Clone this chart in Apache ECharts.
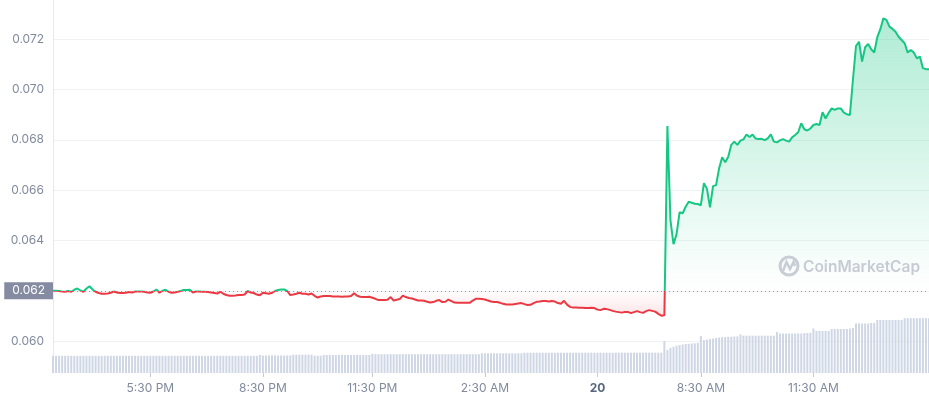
<!DOCTYPE html>
<html><head><meta charset="utf-8">
<script src="https://cdn.jsdelivr.net/npm/echarts@6/dist/echarts.min.js"></script>
<style>html,body{margin:0;padding:0;background:#fff}#c{width:929px;height:400px}</style>
</head><body><div id="c"></div>
<script>
const baseline = 0.062;

const priceA = [
0.06200,0.06200,0.06199,0.06197,0.06196,0.06199,0.06196,0.06204,0.06209,0.06201,
0.06196,0.06209,0.06218,0.06205,0.06196,0.06191,0.06188,0.06188,0.06189,0.06192,
0.06197,0.06193,0.06191,0.06191,0.06192,0.06195,0.06193,0.06197,0.06197,0.06197,
0.06196,0.06193,0.06192,0.06197,0.06205,0.06192,0.06200,0.06204,0.06196,0.06192,
0.06193,0.06196,0.06199,0.06203,0.06203,0.06204,0.06193,0.06197,0.06197,0.06196,
0.06196,0.06195,0.06193,0.06191,0.06189,0.06196,0.06188,0.06183,0.06180,0.06180,
0.06181,0.06183,0.06183,0.06185,0.06199,0.06193,0.06191,0.06185,0.06182
];
const priceB = [
0.06192,0.06190,0.06188,0.06192,0.06199,0.06203,0.06205,0.06205,0.06199,0.06183,
0.06185,0.06188,0.06192,0.06188,0.06188,0.06185,0.06189,0.06180,0.06173,0.06177,
0.06179,0.06179,0.06179,0.06177,0.06177,0.06177,0.06176,0.06177,0.06177,0.06179,
0.06190,0.06180,0.06176,0.06175,0.06175,0.06176,0.06172,0.06168,0.06163,0.06163,
0.06163,0.06164,0.06175,0.06161,0.06164,0.06167,0.06181,0.06175,0.06171,0.06169,
0.06165,0.06161,0.06161,0.06160,0.06156,0.06153,0.06155,0.06160,0.06163,0.06155,
0.06156,0.06165,0.06159,0.06153,0.06152,0.06152,0.06152
];
const priceC = [
0.06152,0.06152,0.06161,0.06168,0.06168,0.06167,0.06165,0.06161,0.06157,0.06155,
0.06155,0.06152,0.06148,0.06145,0.06145,0.06145,0.06147,0.06149,0.06151,0.06147,
0.06143,0.06144,0.06151,0.06156,0.06157,0.06159,0.06159,0.06157,0.06159,0.06157,
0.06151,0.06148,0.06160,0.06145,0.06136,0.06133,0.06133,0.06132,0.06132,0.06131,
0.06131,0.06132,0.06131,0.06125,0.06123,0.06128,0.06127,0.06124,0.06120,0.06117,
0.06115,0.06113,0.06116,0.06116,0.06111,0.06115,0.06119,0.06115,0.06112,0.06119,
0.06123,0.06120,0.06117,0.06108,0.06101,0.06103
];
const priceD = [
0.06855,0.06480,0.06385,0.06425,0.06512,0.06508,0.06534,0.06554,0.06550,0.06546,
0.06545,0.06540,0.06628,0.06605,0.06532,0.06616,0.06620,0.06687,0.06731,0.06711,
0.06733,0.06780,0.06793,0.06780,0.06797,0.06802,0.06821,0.06811,0.06821,0.06805,
0.06803,0.06804,0.06799,0.06806,0.06822,0.06793,0.06790,0.06798,0.06803,0.06797,
0.06793,0.06810,0.06819,0.06830,0.06866,0.06842,0.06837,0.06845,0.06859,0.06863,
0.06859,0.06910,0.06885,0.06907,0.06925,0.06919,0.06925,0.06925,0.06908,0.06902,
0.06899,0.07040,0.07173,0.07190,0.07111,0.07168,0.07181,0.07160,0.07147,0.07208,
0.07240,0.07283,0.07277,0.07250,0.07241,0.07230,0.07210,0.07197,0.07184,0.07147,
0.07157,0.07147,0.07124,0.07131,0.07085,0.07081,0.07081
];

const volA = [
1.72,1.72,1.72,1.72,1.72,1.72,1.72,1.72,1.72,1.72,
1.72,1.72,1.72,1.72,1.72,1.72,1.72,1.72,1.72,1.72,
1.72,1.72,1.72,1.72,1.72,1.72,1.72,1.72,1.72,1.72,
1.72,1.72,1.72,1.72,1.72,1.72,1.72,1.72,1.72,1.72,
1.72,1.72,1.72,1.72,1.72,1.72,1.72,1.72,1.72,1.72,
1.72,1.72,1.72,1.72,1.72,1.72,1.72,1.72,1.72,1.72,
1.72,1.72,1.72,1.72,1.72,1.72,1.72,1.72,1.80
];
const volB = [
1.75,1.75,1.75,1.75,1.75,1.75,1.75,1.75,1.75,1.75,
1.83,1.83,1.83,1.83,1.83,1.83,1.83,1.73,1.73,1.73,
1.80,1.80,1.80,1.80,1.80,1.80,1.80,1.80,1.80,1.80,
1.80,1.80,1.80,1.80,1.80,1.80,1.92,1.88,1.88,1.88,
1.88,1.88,1.88,1.88,1.88,1.88,1.88,1.88,1.88,1.88,
1.88,1.88,1.88,1.88,1.88,1.88,1.88,1.88,1.88,1.88,
1.88,1.88,1.88,1.88,1.88,1.88,1.88
];
const volC = [
1.88,1.88,1.88,1.88,1.88,1.97,1.97,1.97,1.97,1.97,
1.97,1.97,1.97,1.97,1.97,1.97,1.97,1.97,1.97,2.03,
2.03,2.03,2.03,2.03,2.03,2.03,2.03,2.03,2.03,2.03,
2.03,2.03,2.03,2.03,2.03,2.03,2.03,2.03,2.03,2.03,
2.03,2.03,2.03,2.03,2.03,2.03,2.03,2.03,2.03,2.03,
2.03,2.03,2.03,2.03,2.03,2.03,2.03,2.03,2.03,2.03,
2.03,2.03,2.03,2.03,2.03,3.20
];
const volD = [
2.30,2.50,2.62,2.72,2.80,2.85,2.90,2.92,2.95,2.97,
3.00,3.70,3.30,3.35,3.40,3.43,3.50,3.55,3.58,3.60,
3.62,3.63,3.65,3.66,3.85,3.73,3.73,3.73,3.73,3.73,
3.73,3.73,3.73,3.73,3.73,3.73,4.10,3.95,3.95,3.95,
3.95,3.95,3.95,3.95,3.95,4.00,4.00,4.00,4.45,4.20,
4.20,4.20,4.20,4.20,4.40,4.40,4.40,4.40,4.40,4.40,
4.45,4.50,4.95,4.95,4.95,4.95,4.95,5.00,5.00,5.30,
5.30,5.30,5.30,5.30,5.30,5.30,5.30,5.30,5.48,5.48,
5.48,5.48,5.48,5.48,5.48,5.48,5.48
];

const tickIndex = [32, 69, 105, 142, 179, 213, 250];
const tickLabels = ['5:30 PM', '8:30 PM', '11:30 PM', '2:30 AM', '20', '8:30 AM', '11:30 AM'];

const price = priceA.concat(priceB, priceC, priceD);
const volume = volA.concat(volB, volC, volD);
const categories = price.map((_, i) => String(i));

const green = '#16c784', red = '#ea3943';
const showTick = (idx) => tickIndex.indexOf(idx) >= 0;

function buildOption(origin) {
  return {
    animation: false,
    textStyle: {fontFamily: 'Inter'},
    grid: {left: 53, right: 0, top: 0, bottom: 27},
    xAxis: {
      type: 'category', data: categories, boundaryGap: false,
      axisLine: {show: false},
      axisTick: {show: true, interval: showTick, length: 4, lineStyle: {color: '#c4cad6'}},
      axisLabel: {
        interval: showTick, color: '#808a9d', fontSize: 12, margin: 9,
        formatter: (v) => {
          const k = tickIndex.indexOf(Number(v));
          if (k < 0) return '';
          return tickLabels[k] === '20' ? '{b|20}' : tickLabels[k];
        },
        rich: {b: {fontWeight: 'bold', color: '#58667e', fontSize: 12, fontFamily: 'Inter'}}
      },
      splitLine: {show: false}
    },
    yAxis: [
      {
        type: 'value', min: 0.05873, max: 0.07356, splitNumber: 7, position: 'left',
        axisLine: {show: true, lineStyle: {color: '#e6e9ee'}},
        axisTick: {show: false},
        axisLabel: {color: '#808a9d', fontSize: 12, margin: 9, showMinLabel: false, showMaxLabel: false,
          formatter: v => v.toFixed(3)},
        splitLine: {show: true, showMinLine: false, showMaxLine: false, lineStyle: {color: '#eff2f5'}}
      },
      {type: 'value', min: 0, max: 37.3, show: false, splitLine: {show: false}}
    ],
    series: [
      {
        type: 'bar', name: 'Volume', xAxisIndex: 0, yAxisIndex: 1, data: volume,
        barWidth: 2, itemStyle: {color: '#cfd6e4'}, silent: true, z: 1
      },
      {
        type: 'line', name: 'Price', xAxisIndex: 0, yAxisIndex: 0, data: price, showSymbol: false, symbol: 'none',
        lineStyle: {width: 2, color: green}, z: 3,
        areaStyle: {origin: origin, color: 'rgba(0,0,0,0)', opacity: 1},
        markLine: {
          symbol: 'none', silent: true, animation: false, precision: 5,
          data: [{yAxis: baseline}],
          lineStyle: {type: [1, 3], color: '#8f98a8', width: 1},
          label: {position: 'start', formatter: '0.062', backgroundColor: '#858ca2', color: '#fff',
            fontSize: 12, padding: [3, 8, 2, 8], distance: 0, fontFamily: 'Inter'}
        }
      }
    ],
    graphic: [
      {type: 'circle', silent: true, z: 10, shape: {cx: 789, cy: 266, r: 9}, style: {fill: 'none', stroke: '#c9cdd6', lineWidth: 3}},
      {type: 'polyline', silent: true, z: 10, shape: {points: [[783, 271], [786.5, 262], [790, 269], [793.5, 262], [795, 266]]}, style: {fill: 'none', stroke: '#c9cdd6', lineWidth: 2.5}},
      {type: 'text', silent: true, z: 10, x: 803, y: 267, style: {text: 'CoinMarketCap', font: '600 15.5px Inter', fill: '#c7cbd4', verticalAlign: 'middle'}}
    ]
  };
}

let chart = echarts.init(document.getElementById('c'), null, {renderer: 'canvas'});
try {
  chart.setOption(buildOption(baseline));
} catch (e) {
  chart.dispose();
  chart = echarts.init(document.getElementById('c'), null, {renderer: 'canvas'});
  chart.setOption(buildOption('start'));
}

const H = chart.getHeight();
const yb = chart.convertToPixel({yAxisIndex: 0}, baseline);
const f = yb / H;
const lineGrad = new echarts.graphic.LinearGradient(0, 0, 0, H, [
  {offset: 0, color: green}, {offset: f, color: green},
  {offset: f, color: red}, {offset: 1, color: red}
], true);
const areaGrad = new echarts.graphic.LinearGradient(0, 0, 0, H, [
  {offset: 0, color: 'rgba(22,199,132,0.36)'},
  {offset: f, color: 'rgba(22,199,132,0.0)'},
  {offset: f, color: 'rgba(234,57,67,0.0)'},
  {offset: f + 30 / H, color: 'rgba(234,57,67,0.16)'},
  {offset: 1, color: 'rgba(234,57,67,0.16)'}
], true);
chart.setOption({series: [{}, {lineStyle: {color: lineGrad}, areaStyle: {color: areaGrad}}]});
</script>
</body></html>
